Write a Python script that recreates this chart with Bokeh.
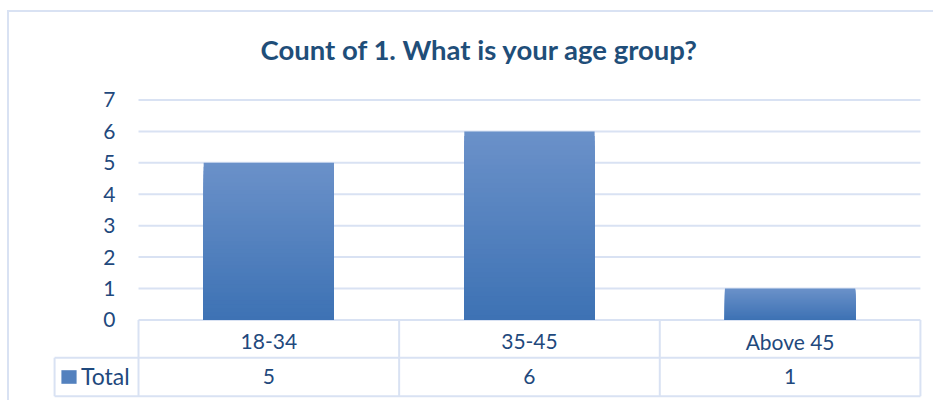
from bokeh.plotting import figure
from bokeh.models import Range1d, FixedTicker, ColumnDataSource, Legend, LegendItem, Title
from bokeh.core.properties import value
from bokeh.embed import file_html
from bokeh.resources import INLINE

# ---- data ----
title_text = "Count of 1. What is your age group?"
categories = ["18-34", "35-45", "Above 45"]
totals = [5, 6, 1]
series_name = "Total"
y_ticks = [0, 1, 2, 3, 4, 5, 6, 7]

# ---- styles ----
FONT = "Lato"
TEXT = "#1F497D"
TITLE_COLOR = "#1F4E79"
LINE = "#D9E2F3"
TOP_RGB = (0x6B, 0x91, 0xC9)
BOT_RGB = (0x3D, 0x72, 0xB4)
N_STEPS = 40
BAR_W = 0.5
ROW1 = 1.2       # table row boundaries below 0 (data units)
ROW2 = 2.43
HEADER_W = 0.33  # visible room left of the category area (data units)
CELL_W = 0.322   # width of the legend cell of the data table (data units)

n = len(categories)

# gradient bars: overlapping slices, each reaching from 0 up to a fraction of the value
xs, tops, colors = [], [], []
for i, v in enumerate(totals):
    for k in range(N_STEPS):
        frac = (N_STEPS - k) / N_STEPS
        f = (N_STEPS - k - 0.5) / N_STEPS
        rgb = tuple(int(round(BOT_RGB[j] + (TOP_RGB[j] - BOT_RGB[j]) * f)) for j in range(3))
        xs.append(i + 0.5)
        tops.append(v * frac)
        colors.append("#%02X%02X%02X" % rgb)
bar_src = ColumnDataSource(dict(x=xs, top=tops, color=colors))

p = figure(width=926, height=390, output_backend="svg", toolbar_location=None,
           x_range=Range1d(-HEADER_W, n + 0.008), y_range=Range1d(-2.5, 7.11),
           x_axis_location=None, title=None,
           min_border_left=43, min_border_right=13, min_border_top=84, min_border_bottom=4)
p.styles = {"border-top": f"2px solid {LINE}", "border-left": f"2px solid {LINE}",
            "margin-top": "10px", "margin-left": "7px"}
p.outline_line_color = None
p.background_fill_color = "white"
p.border_fill_color = "white"

# spacer between title and plot area, then the title above it
p.add_layout(Title(text=" ", text_font_size="2px", standoff=25), "above")
p.add_layout(Title(text=title_text, text_font=FONT, text_font_style="bold",
                   text_font_size="27.5px", text_color=TITLE_COLOR,
                   align="left", offset=208, standoff=4), "above")

# y axis (labels pulled in next to the plot area)
yax = p.yaxis[0]
yax.ticker = FixedTicker(ticks=y_ticks)
yax.axis_line_color = None
yax.major_tick_line_color = None
yax.minor_tick_line_color = None
yax.major_tick_out = 0
yax.major_tick_in = 0
yax.major_label_standoff = -63
yax.major_label_text_font = FONT
yax.major_label_text_font_size = "21px"
yax.major_label_text_color = TEXT

# grid lines across the category area only
p.xgrid.visible = False
p.ygrid.visible = False
p.segment(x0=[0] * len(y_ticks), x1=[n] * len(y_ticks), y0=y_ticks, y1=y_ticks,
          line_color=LINE, line_width=2)

# bars
r = p.vbar(x="x", top="top", bottom=0, width=BAR_W, fill_color="color",
           line_color=None, source=bar_src)

# data table below the chart
p.segment(x0=[-CELL_W, -CELL_W], x1=[n, n], y0=[-ROW1, -ROW2], y1=[-ROW1, -ROW2],
          line_color=LINE, line_width=2)
p.segment(x0=list(range(n + 1)), x1=list(range(n + 1)),
          y0=[0] * (n + 1), y1=[-ROW2] * (n + 1), line_color=LINE, line_width=2)
p.segment(x0=[-CELL_W], x1=[-CELL_W], y0=[-ROW1], y1=[-ROW2],
          line_color=LINE, line_width=2)

centers = [i + 0.5 for i in range(n)]
p.text(x=centers, y=[-0.684] * n, text=categories, text_align="center",
       text_baseline="middle", text_font=value(FONT), text_font_size="21px",
       text_color=TEXT)
p.text(x=centers, y=[-1.786] * n, text=[str(v) for v in totals], text_align="center",
       text_baseline="middle", text_font=value(FONT), text_font_size="21px",
       text_color=TEXT)

legend = Legend(items=[LegendItem(label=series_name, renderers=[r], index=N_STEPS // 2)],
                location=(7, 8), padding=6, margin=0, spacing=0,
                glyph_width=19, glyph_height=17, label_standoff=3,
                label_text_font=FONT, label_text_font_size="23px",
                label_text_color=TEXT,
                border_line_color=None,
                background_fill_alpha=0.0)
p.add_layout(legend)

open("out.html", "w").write(file_html(p, INLINE))
